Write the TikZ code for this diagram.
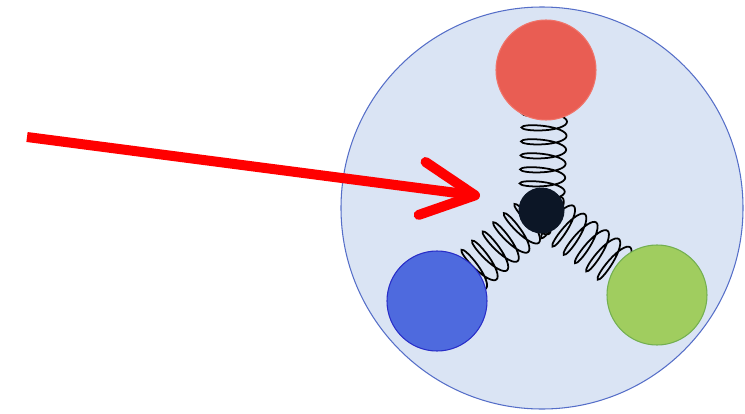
\documentclass[tikz,border=0pt]{standalone}
\usepackage{xcolor}
\definecolor{bagcolor}{RGB}{218, 228, 244}
\definecolor{bagedge}{RGB}{85, 110, 200}
\definecolor{qred}{RGB}{233, 93, 83}
\definecolor{qredge}{RGB}{240, 115, 105}
\definecolor{qblue}{RGB}{78, 106, 222}
\definecolor{qblueedge}{RGB}{40, 45, 200}
\definecolor{qgreen}{RGB}{160, 205, 95}
\definecolor{qgreenedge}{RGB}{115, 175, 80}
\definecolor{corecolor}{RGB}{12, 22, 38}
\usepackage{tikz}
\usetikzlibrary{arrows.meta, decorations.pathmorphing, backgrounds}

\begin{document}
\begin{tikzpicture}[x=0.03cm, y=-0.03cm,
    quark/.style={draw, circle, minimum size=3cm, inner sep=0pt, line width=0.9pt},
    spring/.style={line width=1.5pt, decorate,
        decoration={coil, amplitude=0.68cm, segment length=0.42cm, aspect=0.25}}]

    \useasboundingbox (0,0) rectangle (745,413);

    % Quarks
    \node[quark, fill=qred, draw=qredge] (red) at (546,70) {};
    \node[quark, fill=qblue, draw=qblueedge] (blue) at (437,301) {};
    \node[quark, fill=qgreen, draw=qgreenedge] (green) at (657,295) {};

    % Junction in the middle
    \node[circle, fill=corecolor, minimum size=1.38cm, inner sep=0pt] (core) at (541.5,210.5) {};

    \begin{scope}[on background layer]
        % Bag around everything
        \node[draw=bagedge, fill=bagcolor, circle, minimum size=12.06cm, line width=0.9pt] (bag) at (542,208) {};

        % Springs between junction and quarks (ends hidden under the balls)
        \draw[spring] (red.center) -- (core.center);
        \draw[spring] (core.center) -- (blue.center);
        \draw[spring] (core.center) -- (green.center);
    \end{scope}

    % Pointer arrow
    \coordinate (tail) at (27,137);
    \coordinate (tip) at (480,196);
    \draw[-{Straight Barb[length=1.6cm, width=1.6cm, round]}, red, line width=0.3cm] (tail) -- (tip);

\end{tikzpicture}
\end{document}
